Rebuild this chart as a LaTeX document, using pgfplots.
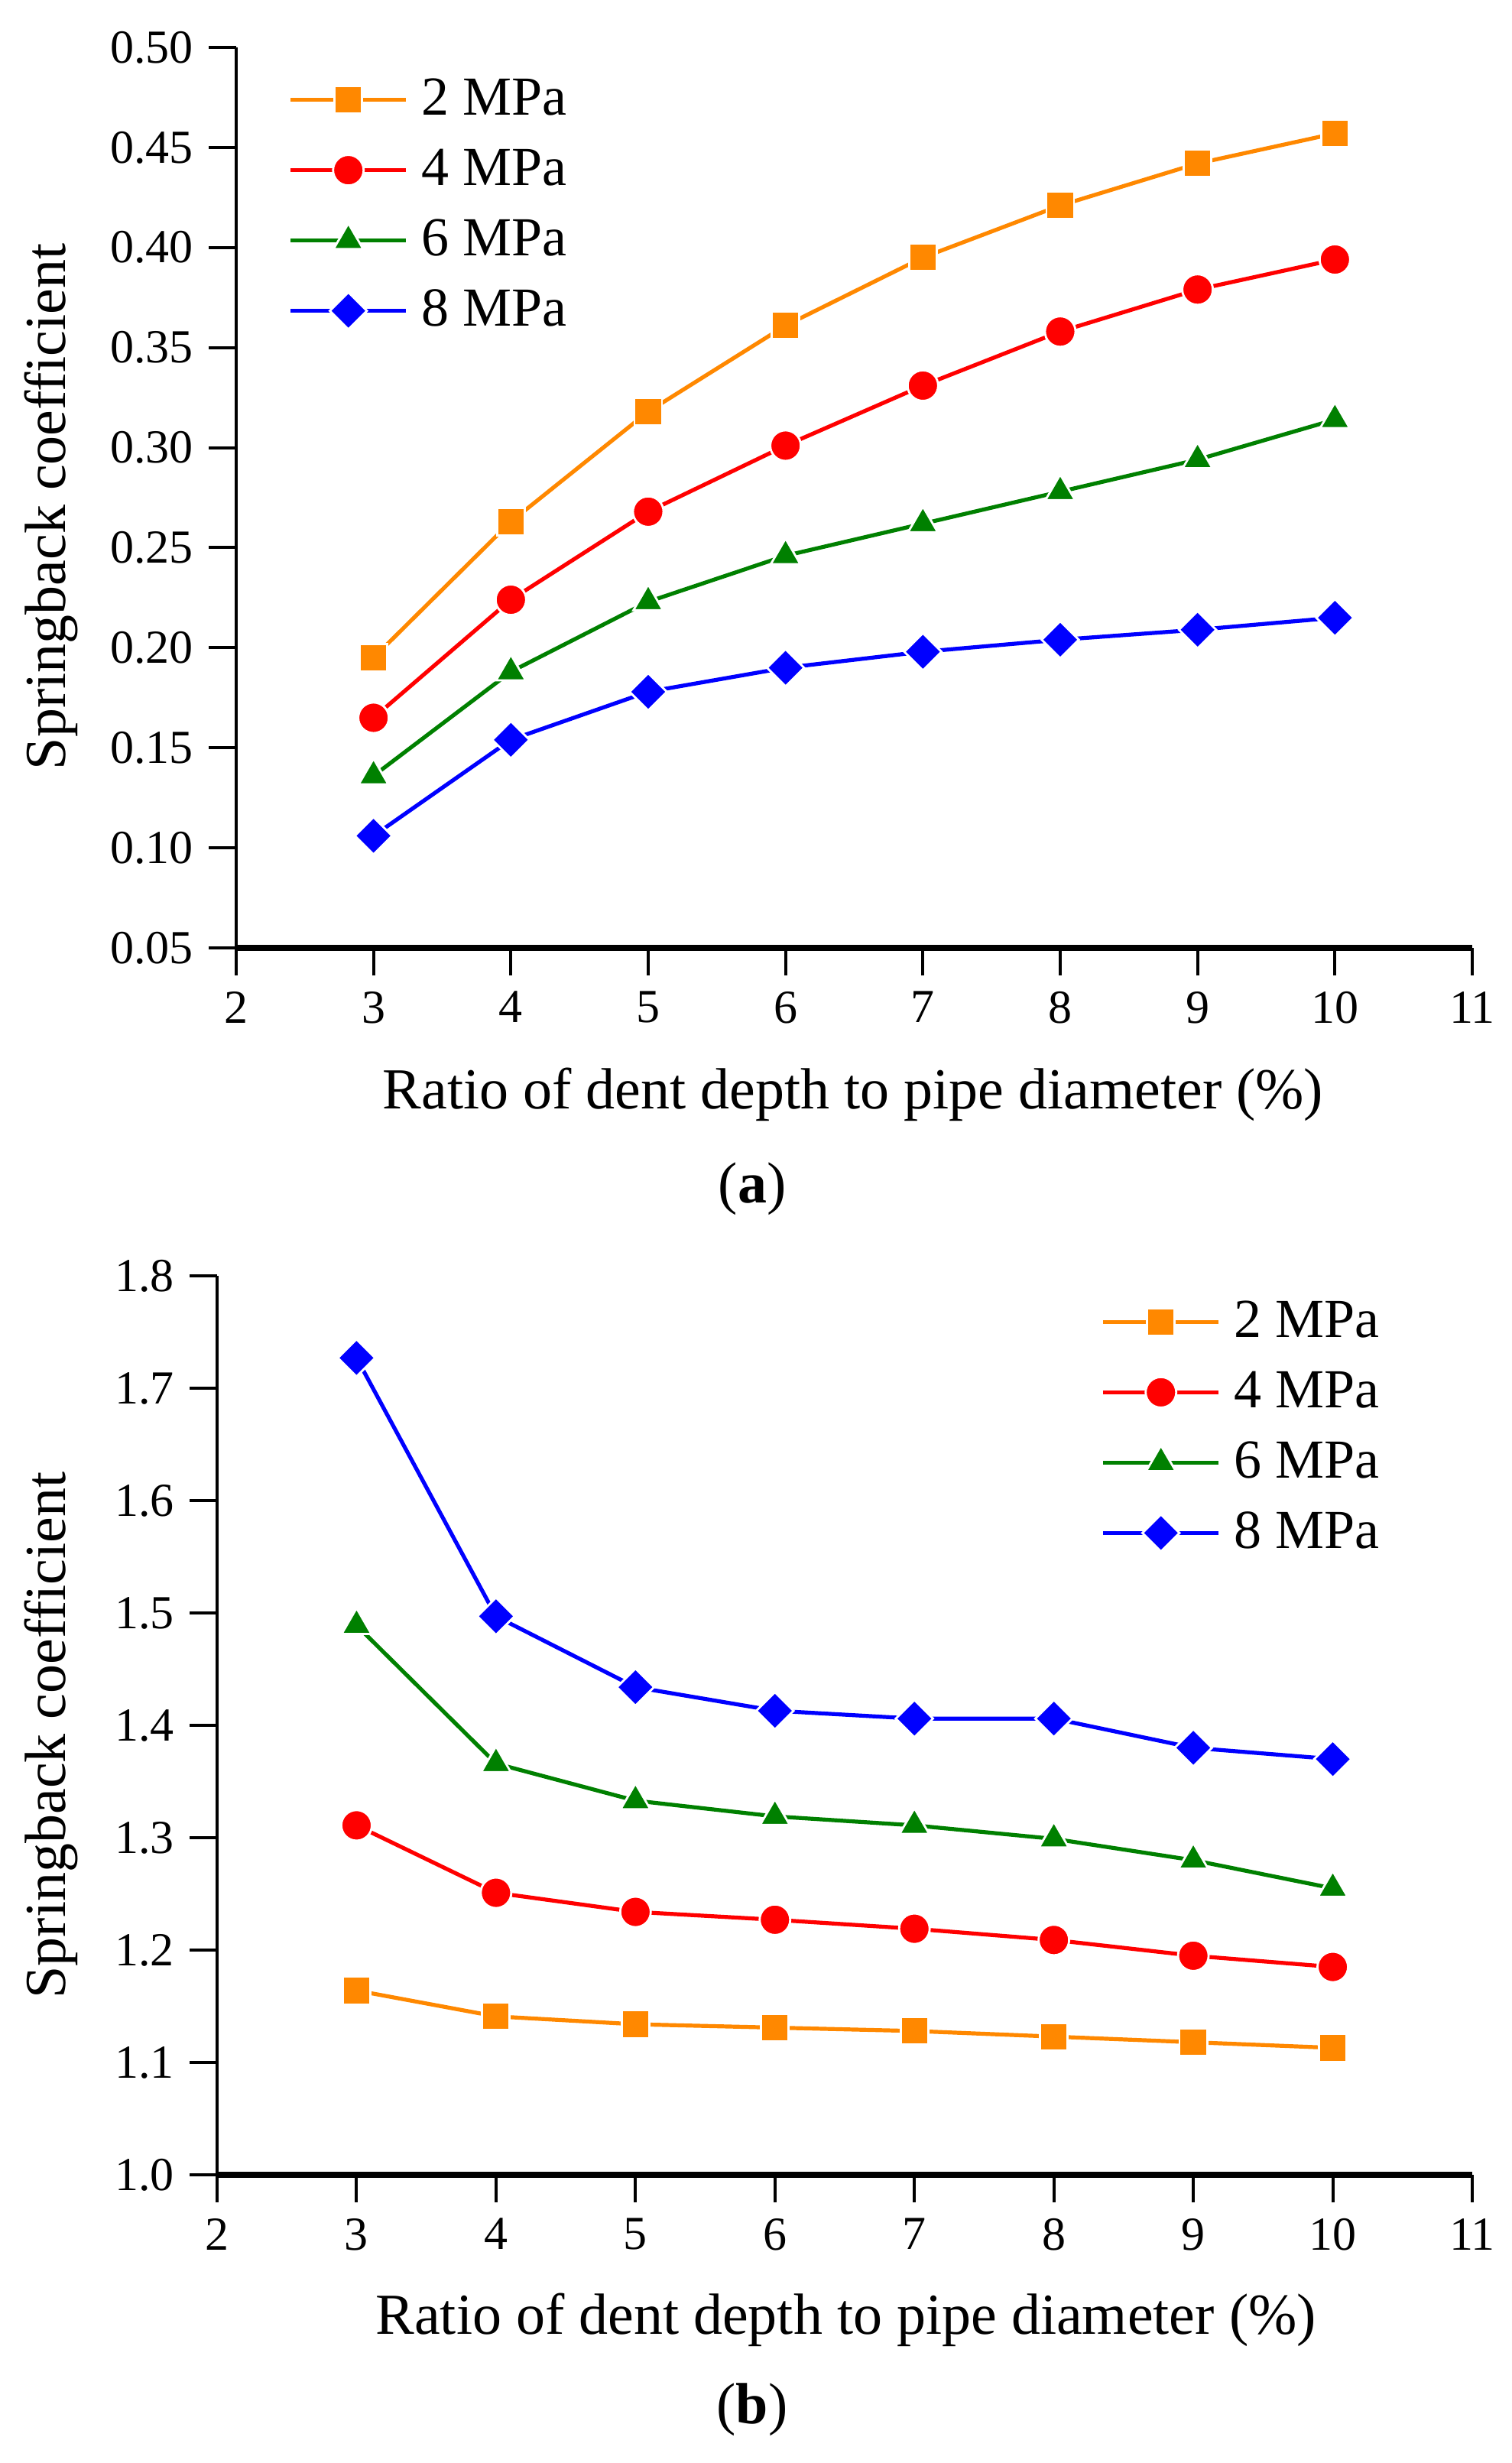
\documentclass[border=0pt]{standalone}
\usepackage{pgfplots}
\pgfplotsset{compat=1.18}
\usepackage{fontspec}
\setmainfont{Liberation Serif}
\definecolor{corange}{HTML}{FF8800}
\definecolor{cred}{HTML}{FF0000}
\definecolor{cgreen}{HTML}{008000}
\definecolor{cblue}{HTML}{0000FF}
\pgfplotsset{
  myaxis/.style={
    scale only axis,
    axis lines=left,
    axis line style={-},
    x axis line style={line width=2pt},
    y axis line style={line width=1.1pt},
    tick align=outside,
    major tick length=9pt,
    tick style={line width=1pt, black},
    minor tick num=0,
    xmin=2, xmax=11,
    xtick={2,3,...,11},
    /pgf/number format/assume math mode=true,
    tick label style={font=\fontsize{15.5}{18}\selectfont},
    xticklabel style={yshift=-1.75pt},
    yticklabel style={xshift=-1.5pt},
    label style={font=\fontsize{19}{22}\selectfont},
    legend style={draw=none, fill=none, inner sep=0pt, row sep=5pt,
      font=\fontsize{18}{21}\selectfont,
      nodes={text height=12pt, text depth=2pt, inner sep=2pt}},
    legend cell align=left,
    legend image code/.code={\draw[mark repeat=2,mark phase=2] plot coordinates {(0pt,0pt) (18.85pt,0pt) (37.7pt,0pt)};
      \path (40.2pt,0pt);},
    every axis plot/.append style={line width=1.3pt},
  },
  s2/.style={color=corange, mark=square*, mark size=4.5pt, mark options={draw=white, fill=corange, line width=0.7pt}},
  s4/.style={color=cred, mark=*, mark size=5pt, mark options={draw=white, fill=cred, line width=0.7pt}},
  s6/.style={color=cgreen, mark=triangle*, mark size=5.6pt, mark options={draw=white, fill=cgreen, line width=0.7pt}},
  s8/.style={color=cblue, mark=square*, mark size=4.3pt, mark options={rotate=45, draw=white, fill=cblue, line width=0.7pt}},
}
\begin{document}
\begin{tikzpicture}
\path[use as bounding box] (0pt,0pt) rectangle (494.5pt,-805.5pt);
% ---------- (a) ----------
\begin{axis}[myaxis,
  at={(77.25pt,-310pt)}, anchor=south west,
  width=404.25pt, height=294.5pt,
  ymin=0.05, ymax=0.50,
  ytick={0.05,0.10,0.15,0.20,0.25,0.30,0.35,0.40,0.45,0.50},
  yticklabel style={/pgf/number format/.cd, fixed, fixed zerofill, precision=2},
  xlabel={Ratio of dent depth to pipe diameter (\%)},
  ylabel={Springback coefficient},
  xlabel style={at={(axis description cs:0.499,-0.163)}, anchor=center},
  ylabel style={at={(axis description cs:-0.150,0.49)}, anchor=center},
  legend style={at={(axis description cs:0.042,0.973)}, anchor=north west},
]
\addplot[s2] coordinates {(3,0.195) (4,0.263) (5,0.318) (6,0.361) (7,0.395) (8,0.421) (9,0.442) (10,0.457)};
\addlegendentry{2 MPa}
\addplot[s4] coordinates {(3,0.165) (4,0.224) (5,0.268) (6,0.301) (7,0.331) (8,0.358) (9,0.379) (10,0.394)};
\addlegendentry{4 MPa}
\addplot[s6] coordinates {(3,0.136) (4,0.188) (5,0.223) (6,0.246) (7,0.262) (8,0.278) (9,0.294) (10,0.314)};
\addlegendentry{6 MPa}
\addplot[s8] coordinates {(3,0.106) (4,0.154) (5,0.178) (6,0.190) (7,0.198) (8,0.204) (9,0.209) (10,0.215)};
\addlegendentry{8 MPa}
\end{axis}
\node[font=\fontsize{19}{22}\selectfont] at (246pt,-388.8pt) {(\textbf{a})};
% ---------- (b) ----------
\begin{axis}[myaxis,
  at={(71pt,-711.25pt)}, anchor=south west,
  width=410.5pt, height=294pt,
  ymin=1.0, ymax=1.8,
  ytick={1.0,1.1,1.2,1.3,1.4,1.5,1.6,1.7,1.8},
  yticklabel style={/pgf/number format/.cd, fixed, fixed zerofill, precision=1},
  xlabel={Ratio of dent depth to pipe diameter (\%)},
  ylabel={Springback coefficient},
  xlabel style={at={(axis description cs:0.501,-0.161)}, anchor=center},
  ylabel style={at={(axis description cs:-0.132,0.489)}, anchor=center},
  legend style={at={(axis description cs:0.704,0.980)}, anchor=north west},
]
\addplot[s2] coordinates {(3,1.164) (4,1.141) (5,1.134) (6,1.131) (7,1.128) (8,1.123) (9,1.118) (10,1.113)};
\addlegendentry{2 MPa}
\addplot[s4] coordinates {(3,1.311) (4,1.251) (5,1.234) (6,1.227) (7,1.219) (8,1.209) (9,1.195) (10,1.185)};
\addlegendentry{4 MPa}
\addplot[s6] coordinates {(3,1.489) (4,1.366) (5,1.333) (6,1.319) (7,1.311) (8,1.299) (9,1.280) (10,1.255)};
\addlegendentry{6 MPa}
\addplot[s8] coordinates {(3,1.727) (4,1.497) (5,1.434) (6,1.413) (7,1.406) (8,1.406) (9,1.380) (10,1.370)};
\addlegendentry{8 MPa}
\end{axis}
\node[font=\fontsize{19}{22}\selectfont] at (246pt,-788pt) {(\textbf{b})};
\end{tikzpicture}
\end{document}
